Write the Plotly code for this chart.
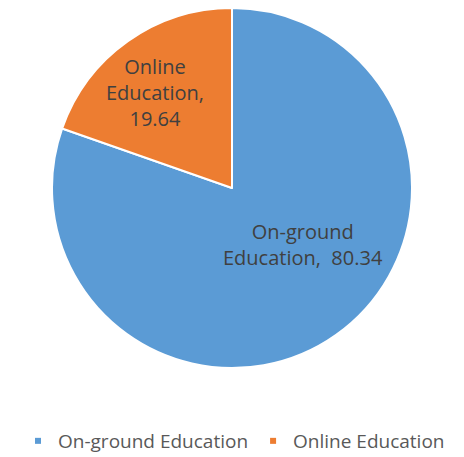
import plotly.graph_objects as go

labels = ["On-ground Education", "Online Education"]
values = [80.34, 19.64]
colors = ["#5B9BD5", "#ED7D31"]
slice_text = [
    f"On-ground<br>Education,  {values[0]}",
    f"Online<br>Education,<br>{values[1]}",
]

W, H = 464, 457
OFF = 8  # page body margin of the html page
FONT = "Open Sans, Lato, Liberation Sans, sans-serif"

cx, cy, r = 232 - OFF, 188 - OFF, 180

fig = go.Figure()
fig.add_trace(go.Pie(
    labels=labels,
    values=values,
    sort=False,
    direction="clockwise",
    rotation=0,
    marker=dict(colors=colors, line=dict(color="white", width=2)),
    textinfo="none",
    hoverinfo="label+value",
    showlegend=False,
    domain=dict(x=[(cx - r) / W, (cx + r) / W], y=[(H - cy - r) / H, (H - cy + r) / H]),
))

# legend entries (small square swatches)
for name, col in zip(labels, colors):
    fig.add_trace(go.Scatter(
        x=[None], y=[None], mode="markers", name=name,
        marker=dict(symbol="square", size=6, color=col),
        hoverinfo="skip",
    ))

label_pos = [(303 - OFF, 245 - OFF), (155 - OFF, 92 - OFF)]
for txt, (px, py) in zip(slice_text, label_pos):
    fig.add_annotation(
        x=px / W, y=(H - py) / H, xref="paper", yref="paper",
        xanchor="center", yanchor="middle",
        text=txt, showarrow=False, align="center",
        font=dict(family=FONT, size=20, color="#404040"),
    )

fig.update_layout(
    width=W, height=H,
    margin=dict(l=0, r=0, t=0, b=0),
    paper_bgcolor="white", plot_bgcolor="white",
    xaxis=dict(visible=False), yaxis=dict(visible=False),
    showlegend=True,
    legend=dict(
        orientation="h", x=(234 - OFF) / W, xanchor="center",
        y=(H - (441 - OFF)) / H, yanchor="middle",
        font=dict(family=FONT, size=19, color="#595959"),
        itemwidth=30, tracegroupgap=0, bgcolor="rgba(0,0,0,0)",
    ),
)

fig.write_html("out.html")
